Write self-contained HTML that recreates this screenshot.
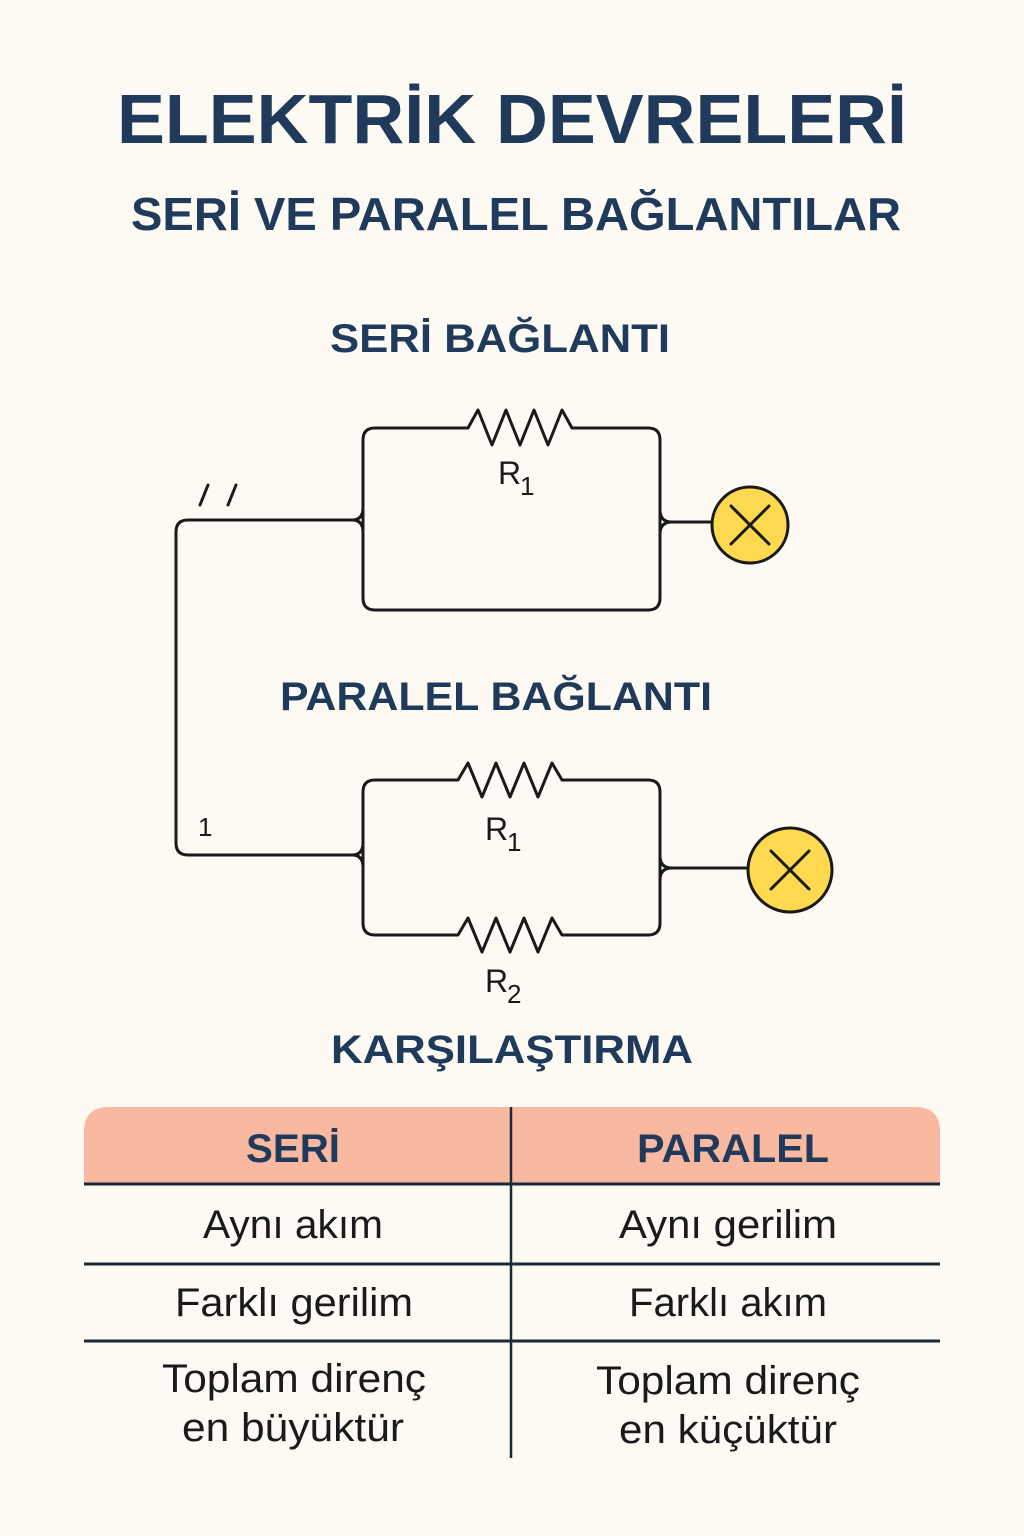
<!DOCTYPE html>
<html><head><meta charset="utf-8"><style>
html,body{margin:0;padding:0;background:#fdfaf3;}
svg{display:block}
.h{font-family:"Liberation Sans","DejaVu Sans",sans-serif;font-weight:bold;fill:#1f3a5a;text-anchor:middle}
.t{font-family:"Liberation Sans","DejaVu Sans",sans-serif;fill:#1a1a1a;text-anchor:middle;font-size:40px}
.w{fill:none;stroke:#1a1a1a;stroke-width:3;stroke-linejoin:round;stroke-linecap:round}
</style></head><body>
<svg width="1024" height="1536" viewBox="0 0 1024 1536">
<rect width="1024" height="1536" fill="#fdfaf3"/>
<text class="h" x="512" y="143" font-size="70" textLength="790" lengthAdjust="spacingAndGlyphs">ELEKTRİK DEVRELERİ</text>
<text class="h" x="516" y="230" font-size="46" textLength="770" lengthAdjust="spacingAndGlyphs">SERİ VE PARALEL BAĞLANTILAR</text>
<text class="h" x="500" y="352" font-size="40" textLength="340" lengthAdjust="spacingAndGlyphs">SERİ BAĞLANTI</text>
<text class="h" x="496" y="710" font-size="40" textLength="432" lengthAdjust="spacingAndGlyphs">PARALEL BAĞLANTI</text>
<text class="h" x="512" y="1063" font-size="40" textLength="362" lengthAdjust="spacingAndGlyphs">KARŞILAŞTIRMA</text>

<path class="w" d="M363,440 Q363,428 375,428 L468,428 L478,410 L492,445 L506,410 L520,445 L534,410 L548,445 L562,410 L572,428 L648,428 Q660,428 660,440 L660,598 Q660,610 648,610 L375,610 Q363,610 363,598 Z"/>
<path class="w" d="M188,520 L352,520 Q363,520 363,508 M352,520 Q363,520 363,532"/>
<path class="w" d="M660,510 Q660,522 672,522 L712,522 M672,522 Q660,522 660,534"/>
<path class="w" d="M200,505 L208,485 M228,505 L236,485"/>
<circle cx="750" cy="525" r="38" fill="#fcd94f" stroke="#1a1a1a" stroke-width="3"/>
<path class="w" d="M731,506 L769,544 M769,506 L731,544" stroke-width="3.5"/>
<text x="498" y="484" font-family="Liberation Sans,sans-serif" font-size="32" fill="#1a1a1a">R</text>
<text x="520" y="495" font-family="Liberation Sans,sans-serif" font-size="26" fill="#1a1a1a">1</text>

<path class="w" d="M188,520 Q176,520 176,532 L176,843 Q176,855 188,855 L352,855"/>
<text x="198" y="836" font-family="Liberation Sans,sans-serif" font-size="26" fill="#1a1a1a">1</text>

<path class="w" d="M363,792 Q363,780 375,780 L458,780 L468,763 L482,797 L496,763 L510,797 L524,763 L538,797 L552,763 L562,780 L648,780 Q660,780 660,792 L660,923 Q660,935 648,935 L562,935 L552,918 L538,952 L524,918 L510,952 L496,918 L482,952 L468,918 L458,935 L375,935 Q363,935 363,923 Z"/>
<path class="w" d="M352,855 Q363,855 363,843 M352,855 Q363,855 363,867"/>
<path class="w" d="M660,856 Q660,868 672,868 L748,868 M672,868 Q660,868 660,880"/>
<circle cx="790" cy="870" r="42" fill="#fcd94f" stroke="#1a1a1a" stroke-width="3"/>
<path class="w" d="M771,851 L809,889 M809,851 L771,889" stroke-width="3.5"/>
<text x="485" y="840" font-family="Liberation Sans,sans-serif" font-size="32" fill="#1a1a1a">R</text>
<text x="507" y="851" font-family="Liberation Sans,sans-serif" font-size="26" fill="#1a1a1a">1</text>
<text x="485" y="992" font-family="Liberation Sans,sans-serif" font-size="32" fill="#1a1a1a">R</text>
<text x="507" y="1003" font-family="Liberation Sans,sans-serif" font-size="26" fill="#1a1a1a">2</text>

<path d="M84,1183 L84,1132 Q84,1107 109,1107 L915,1107 Q940,1107 940,1132 L940,1183 Z" fill="#f9b8a0"/>
<line x1="84" y1="1184" x2="940" y2="1184" stroke="#1a2a3a" stroke-width="3"/>
<line x1="84" y1="1264" x2="940" y2="1264" stroke="#1a2a3a" stroke-width="3"/>
<line x1="84" y1="1341" x2="940" y2="1341" stroke="#1a2a3a" stroke-width="3"/>
<line x1="511" y1="1107" x2="511" y2="1458" stroke="#1a2a3a" stroke-width="2.5"/>
<text class="h" x="293" y="1162" font-size="40" textLength="94" lengthAdjust="spacingAndGlyphs">SERİ</text>
<text class="h" x="733" y="1162" font-size="40" textLength="192" lengthAdjust="spacingAndGlyphs">PARALEL</text>
<text class="t" x="293" y="1238" textLength="180" lengthAdjust="spacingAndGlyphs">Aynı akım</text>
<text class="t" x="728" y="1238" textLength="218" lengthAdjust="spacingAndGlyphs">Aynı gerilim</text>
<text class="t" x="294" y="1316" textLength="238" lengthAdjust="spacingAndGlyphs">Farklı gerilim</text>
<text class="t" x="728" y="1316" textLength="198" lengthAdjust="spacingAndGlyphs">Farklı akım</text>
<text class="t" x="294" y="1392" textLength="264" lengthAdjust="spacingAndGlyphs">Toplam direnç</text>
<text class="t" x="293" y="1441" textLength="222" lengthAdjust="spacingAndGlyphs">en büyüktür</text>
<text class="t" x="728" y="1394" textLength="264" lengthAdjust="spacingAndGlyphs">Toplam direnç</text>
<text class="t" x="728" y="1443" textLength="218" lengthAdjust="spacingAndGlyphs">en küçüktür</text>
</svg>
</body></html>
